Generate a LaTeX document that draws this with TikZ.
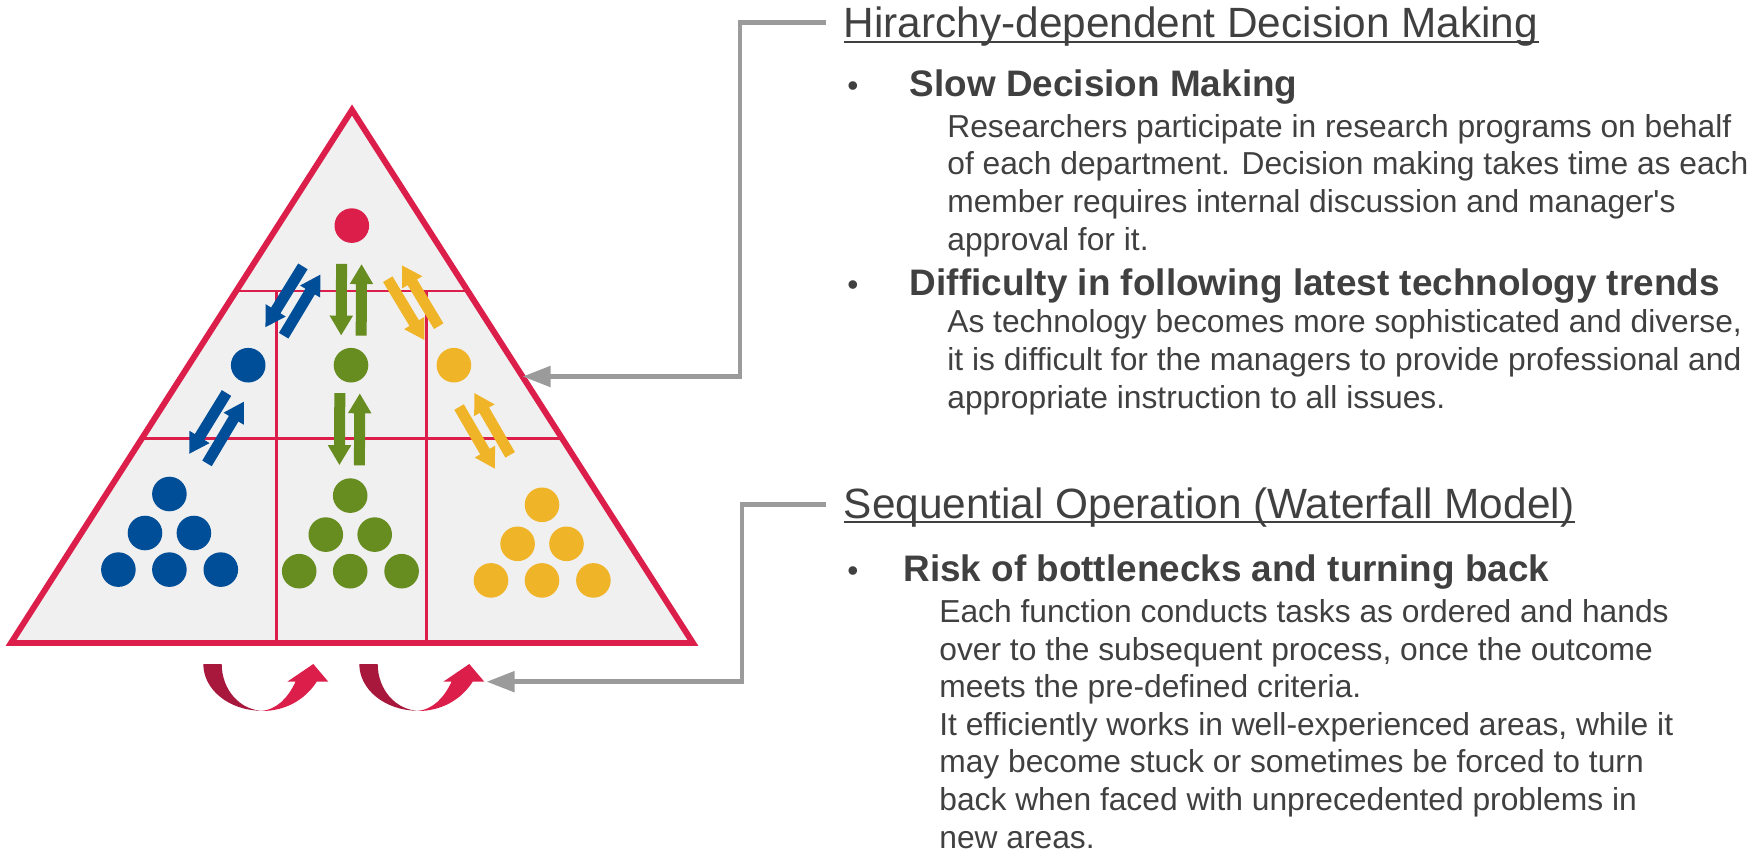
\documentclass[tikz,border=0pt]{standalone}
\usepackage{fontspec}
\setmainfont{Liberation Sans}
\usetikzlibrary{positioning,calc,arrows.meta}

\definecolor{crimson}{HTML}{DC1E4B}
\definecolor{darkcrimson}{HTML}{A8183C}
\definecolor{paleback}{HTML}{F0F0F0}
\definecolor{teamblue}{HTML}{004D98}
\definecolor{teamgreen}{HTML}{678C1F}
\definecolor{teamyellow}{HTML}{F0B428}
\definecolor{linkgray}{HTML}{9B9B9B}
\definecolor{txtgray}{HTML}{404040}

\tikzset{
  member/.style={circle, fill=#1, inner sep=0pt, minimum size=.692cm},
  flow/.style={draw=#1, line width=.22cm, -{Triangle[length=.4cm,width=.44cm]}},
  pointer/.style={draw=linkgray, line width=2.8pt, -{Triangle[length=.56cm,width=.4cm]}},
  heading/.style={anchor=base west, inner sep=0pt, text=txtgray, font=\fontsize{24.1}{28}\selectfont},
  itemhead/.style={anchor=base west, inner sep=0pt, text=txtgray, font=\bfseries\fontsize{21}{25}\selectfont},
  % anchored at the baseline of the last line
  itembody/.style={anchor=base west, inner sep=0pt, text=txtgray, align=left, font=\fontsize{18.08}{21.4}\selectfont},
  bulletmark/.style={anchor=base, inner sep=0pt, text=txtgray, font=\fontsize{18}{21}\selectfont},
  uline/.style={draw=txtgray, line width=1.1pt},
}

\begin{document}
\begin{tikzpicture}[x=.02cm, y=-.02cm]
    \useasboundingbox (0,0) rectangle (1754,856);

    % pyramid
    \coordinate (apex) at (352,110);
    \coordinate (bl) at (11,643);
    \coordinate (br) at (693,643);
    \fill[paleback] (apex) -- (bl) -- (br) -- cycle;
    \draw[crimson, line width=1.2pt] ($(apex)!.3396!(bl)$) -- ($(apex)!.3396!(br)$)
        ($(apex)!.6163!(bl)$) -- ($(apex)!.6163!(br)$);
    \coordinate (cut1) at (276.5,291);
    \coordinate (cut2) at (426.5,291);
    \draw[crimson, line width=1.2pt] (cut1) -- (cut1 |- bl) (cut2) -- (cut2 |- br);
    \draw[crimson, line width=3.4pt] (apex) -- (bl) -- (br) -- cycle;

    % people
    \node[member=crimson] (dir) at (351.8,225.6) {};
    \node[member=teamblue] (bmgr) at (248.2,365.2) {};
    \node[member=teamgreen] (gmgr) at (351,365.2) {};
    \node[member=teamyellow] (ymgr) at (453.9,365.2) {};
    \foreach \tm/\c/\x/\y in {b/teamblue/169.4/494, g/teamgreen/350.2/495.6, y/teamyellow/542/504.8}{
        \node[member=\c] (\tm mem1) at (\x,\y) {};
        \node[member=\c] (\tm mem2) at (\x-24.4,\y+39) {};
        \node[member=\c] (\tm mem3) at (\x+24.5,\y+39) {};
        \node[member=\c] (\tm mem4) at (\x-51,\y+75.6) {};
        \node[member=\c] (\tm mem5) at (\x,\y+75.6) {};
        \node[member=\c] (\tm mem6) at (\x+51.4,\y+75.6) {};
    }

    % reporting arrows
    \draw[flow=teamgreen] ($(dir)!.275!(gmgr)!.2cm!-90:(gmgr)$) -- ($(dir)!.788!(gmgr)!.2cm!-90:(gmgr)$);
    \draw[flow=teamgreen] ($(dir)!.788!(gmgr)!.2cm!90:(gmgr)$) -- ($(dir)!.275!(gmgr)!.2cm!90:(gmgr)$);
    \draw[flow=teamgreen] ($(gmgr)!.215!(gmem1)!.22cm!-90:(gmem1)$) -- ($(gmgr)!.767!(gmem1)!.22cm!-90:(gmem1)$);
    \draw[flow=teamgreen] ($(gmgr)!.767!(gmem1)!.18cm!90:(gmem1)$) -- ($(gmgr)!.215!(gmem1)!.18cm!90:(gmem1)$);
    \draw[flow=teamblue] ($(dir)!.356!(bmgr)!.3cm!-90:(bmgr)$) -- ($(dir)!.767!(bmgr)!.176cm!-90:(bmgr)$);
    \draw[flow=teamblue] ($(dir)!.742!(bmgr)!.218cm!90:(bmgr)$) -- ($(dir)!.333!(bmgr)!.078cm!90:(bmgr)$);
    \draw[flow=teamblue] ($(bmgr)!.232!(bmem1)!.08cm!-90:(bmem1)$) -- ($(bmgr)!.706!(bmem1)!.082cm!-90:(bmem1)$);
    \draw[flow=teamblue] ($(bmgr)!.697!(bmem1)!.322cm!90:(bmem1)$) -- ($(bmgr)!.22!(bmem1)!.306cm!90:(bmem1)$);
    \draw[flow=teamyellow] ($(dir)!.373!(ymgr)!.052cm!-90:(ymgr)$) -- ($(dir)!.783!(ymgr)!.18cm!-90:(ymgr)$);
    \draw[flow=teamyellow] ($(dir)!.766!(ymgr)!.216cm!90:(ymgr)$) -- ($(dir)!.356!(ymgr)!.342cm!90:(ymgr)$);
    \draw[flow=teamyellow] ($(ymgr)!.231!(ymem1)!.36cm!-90:(ymem1)$) -- ($(ymgr)!.664!(ymem1)!.412cm!-90:(ymem1)$);
    \draw[flow=teamyellow] ($(ymgr)!.641!(ymem1)!.006cm!-90:(ymem1)$) -- ($(ymgr)!.208!(ymem1)!.05cm!90:(ymem1)$);

    % hand-over arrows under the pyramid
    \foreach \dx [count=\k] in {0,156}{
        \begin{scope}[shift={(\dx,0)}]
            \fill[darkcrimson] (203.3,664) -- (221.7,664) .. controls (221.7,689.8) and (240.3,710.7) .. (263.3,710.7)
                -- (261.7,710.7) .. controls (229.4,710.7) and (203.3,689.8) .. (203.3,664) -- cycle;
            \fill[crimson] (262,711) .. controls (285,711) and (305,700) .. (316.7,681.7) -- (328.3,681.7) -- (313.3,664)
                -- (287.3,681.7) -- (295.5,681.7) .. controls (288,698) and (277,709) .. (262,711) -- cycle;
            \coordinate (flow\k) at (330.5,681.7);
        \end{scope}
    }

    % first block of text
    \node[heading] (hdm) at (843.5,37.3) {Hirarchy-dependent Decision Making};
    \draw[uline] ([yshift=-.088cm]hdm.base west) -- ([yshift=-.088cm]hdm.base east);
    \node[bulletmark] (slowb) at (853,96.7) {\textbullet};
    \node[itemhead] (slow) at (909.5,96.7) {Slow Decision Making};
    \node[itembody] (slowtxt) at (947,250) {Researchers participate in research programs on behalf\\
        of each department. Decision making takes time as each\\
        member requires internal discussion and manager\textquotesingle s\\
        approval for it.};
    \node[bulletmark] (trendb) at (853,295) {\textbullet};
    \node[itemhead] (trend) at (909.5,295) {Difficulty in following latest technology trends};
    \node[itembody] (trendtxt) at (947,408) {As technology becomes more sophisticated and diverse,\\
        it is difficult for the managers to provide professional and\\
        appropriate instruction to all issues.};

    % second block of text
    \node[heading] (seq) at (843.5,518) {Sequential Operation (Waterfall Model)};
    \draw[uline] ([yshift=-.088cm]seq.base west) -- ([yshift=-.088cm]seq.base east);
    \node[bulletmark] (riskb) at (853,581.7) {\textbullet};
    \node[itemhead] (risk) at (903,581.7) {Risk of bottlenecks and turning back};
    \node[itembody] (risktxt) at (939,848) {Each function conducts tasks as ordered and hands\\
        over to the subsequent process, once the outcome\\
        meets the pre-defined criteria.\\
        It efficiently works in well-experienced areas, while it\\
        may become stuck or sometimes be forced to turn\\
        back when faced with unprecedented problems in\\
        new areas.};

    % pointers
    \draw[pointer] ([xshift=-.35cm,yshift=.08cm]hdm.west) -- ++(-86,0) |- ($(apex)!.5!(br)$);
    \draw[pointer] ([xshift=-.35cm,yshift=.05cm]seq.west) -- ++(-84,0) |- (flow2);
\end{tikzpicture}
\end{document}
